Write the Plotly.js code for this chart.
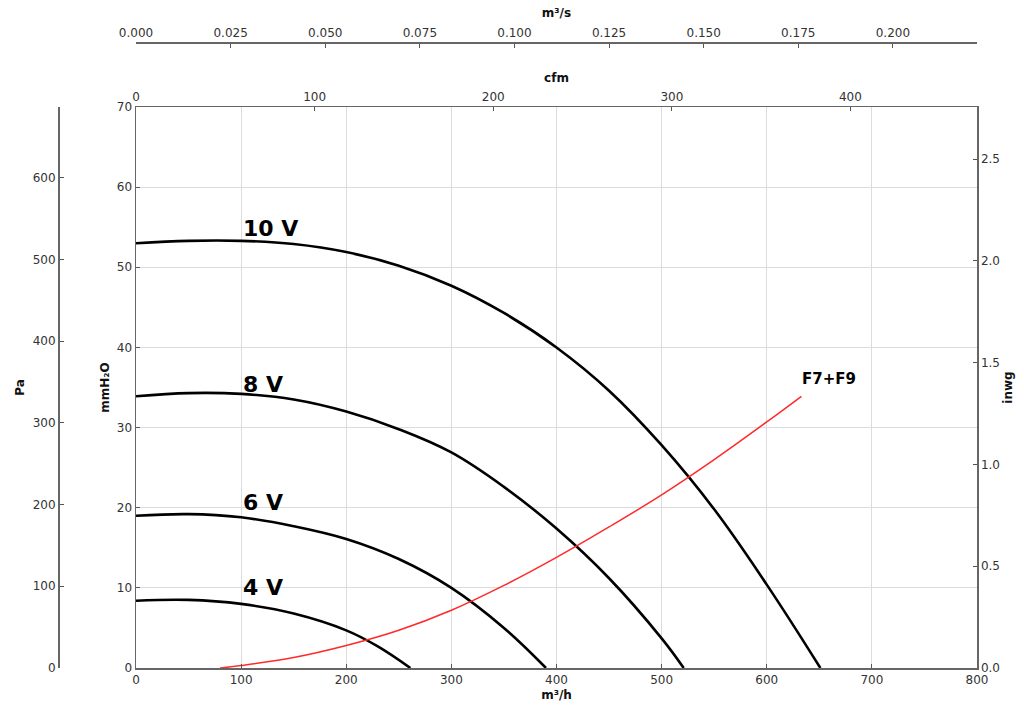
<!DOCTYPE html>
<html>
<head>
<meta charset="utf-8">
<script src="https://cdn.plot.ly/plotly-3.0.1.min.js"></script>
<style>html,body{margin:0;padding:0;background:#fff;}#chart{width:1024px;height:706px;}</style>
</head>
<body>
<div id="chart"></div>
<script>
// ---- data (m³/h vs mmH2O) ----
const q10 = [0, 50, 100, 150, 200, 250, 300, 350, 400, 450, 500, 550, 600, 651];
const h10 = [53.0, 53.3, 53.3, 52.9, 51.9, 50.2, 47.7, 44.3, 40.0, 34.6, 27.8, 19.8, 10.4, 0];
const q8 = [0, 50, 100, 150, 200, 250, 300, 350, 400, 450, 500, 521];
const h8 = [33.9, 34.3, 34.2, 33.5, 32.0, 29.8, 26.9, 22.6, 17.4, 11.2, 3.7, 0];
const q6 = [0, 50, 100, 150, 200, 250, 300, 350, 390];
const h6 = [19.0, 19.2, 18.8, 17.7, 16.1, 13.6, 10.0, 5.0, 0];
const q4 = [0, 50, 100, 150, 200, 230, 261];
const h4 = [8.4, 8.5, 8.0, 6.8, 4.7, 2.7, 0];
const qF = [80, 100, 150, 200, 250, 300, 350, 400, 450, 500, 550, 600, 633];
const hF = [0, 0.3, 1.3, 2.8, 4.7, 7.2, 10.3, 13.8, 17.6, 21.6, 26.0, 30.7, 33.9];

const curveLabels = ['10 V', '8 V', '6 V', '4 V'];
const curveLabelX = [100, 100, 100, 100];
const curveLabelY = [54.8, 35.4, 20.6, 10.1];
const filterLabel = 'F7+F9';
const filterLabelX = 632;
const filterLabelY = 36.1;

// unit conversions
const M3H_PER_CFM = 1.69901;
const PA_PER_MMH2O = 9.80665;
const MMH2O_PER_INWG = 25.4;
const X_MAX = 800, Y_MAX = 70;

const W = 1024, H = 706;
const plotL = 136, plotR = 977, plotT = 107, plotB = 668;

const fanStyle = {color: '#000', width: 2.6, shape: 'spline', smoothing: 1.1};
const traces = [
  {x: q10, y: h10, mode: 'lines', line: fanStyle, hoverinfo: 'skip'},
  {x: q8, y: h8, mode: 'lines', line: fanStyle, hoverinfo: 'skip'},
  {x: q6, y: h6, mode: 'lines', line: fanStyle, hoverinfo: 'skip'},
  {x: q4, y: h4, mode: 'lines', line: fanStyle, hoverinfo: 'skip'},
  {x: qF, y: hF, mode: 'lines', line: {color: '#ff2a2a', width: 1.5, shape: 'spline', smoothing: 1.1}, hoverinfo: 'skip'},
  // empty helper traces so the secondary unit axes are drawn
  {x: [null], y: [null], xaxis: 'x2', yaxis: 'y', mode: 'lines', hoverinfo: 'skip'},
  {x: [null], y: [null], xaxis: 'x3', yaxis: 'y', mode: 'lines', hoverinfo: 'skip'},
  {x: [null], y: [null], xaxis: 'x', yaxis: 'y2', mode: 'lines', hoverinfo: 'skip'},
  {x: [null], y: [null], xaxis: 'x', yaxis: 'y3', mode: 'lines', hoverinfo: 'skip'}
];

const tickFont = {family: 'DejaVu Sans', size: 12, color: '#333'};
const titleFont = {family: 'DejaVu Sans', size: 12, color: '#111', weight: 'bold'};
const axisCommon = {
  ticks: 'inside', ticklen: 4, tickwidth: 1, tickcolor: '#555',
  showline: true, linecolor: '#666', linewidth: 1.5,
  zeroline: false, tickfont: tickFont, automargin: false, fixedrange: true
};

const annotations = curveLabels.map((t, i) => ({
  text: t, x: curveLabelX[i], y: curveLabelY[i], xref: 'x', yref: 'y',
  xanchor: 'left', yanchor: 'middle', showarrow: false,
  font: {family: 'DejaVu Sans', size: 22, color: '#000', weight: 'bold'}
}));
annotations.push({
  text: filterLabel, x: filterLabelX, y: filterLabelY, xref: 'x', yref: 'y',
  xanchor: 'left', yanchor: 'middle', showarrow: false,
  font: {family: 'DejaVu Sans', size: 15, color: '#000', weight: 'bold'}
});

const layout = {
  width: W, height: H,
  margin: {l: 0, r: 0, t: 0, b: 0},
  paper_bgcolor: '#fff', plot_bgcolor: '#fff',
  showlegend: false,
  font: {family: 'DejaVu Sans', size: 12, color: '#333'},
  xaxis: Object.assign({}, axisCommon, {
    domain: [plotL / W, plotR / W], range: [0, X_MAX], tick0: 0, dtick: 100,
    showgrid: true, gridcolor: '#dcdcdc', gridwidth: 1, anchor: 'y', side: 'bottom',
    title: {text: 'm³/h', font: titleFont, standoff: 4}
  }),
  xaxis2: Object.assign({}, axisCommon, {
    overlaying: 'x', side: 'top', anchor: 'y',
    range: [0, X_MAX / M3H_PER_CFM], tick0: 0, dtick: 100, showgrid: false,
    title: {text: 'cfm', font: titleFont, standoff: 4}
  }),
  xaxis3: Object.assign({}, axisCommon, {
    overlaying: 'x', side: 'top', anchor: 'free', position: 1 - 42 / H,
    range: [0, X_MAX / 3600], tick0: 0, dtick: 0.025, tickformat: '.3f', showgrid: false,
    title: {text: 'm³/s', font: titleFont, standoff: 4}
  }),
  yaxis: Object.assign({}, axisCommon, {
    domain: [1 - plotB / H, 1 - plotT / H], range: [0, Y_MAX], tick0: 0, dtick: 10,
    showgrid: true, gridcolor: '#dcdcdc', gridwidth: 1, anchor: 'x', side: 'left',
    title: {text: 'mmH₂O', font: titleFont, standoff: 4}
  }),
  yaxis2: Object.assign({}, axisCommon, {
    overlaying: 'y', side: 'left', anchor: 'free', position: 58 / W,
    range: [0, Y_MAX * PA_PER_MMH2O], tick0: 0, dtick: 100, showgrid: false,
    title: {text: 'Pa', font: titleFont, standoff: 4}
  }),
  yaxis3: Object.assign({}, axisCommon, {
    overlaying: 'y', side: 'right', anchor: 'x',
    range: [0, Y_MAX / MMH2O_PER_INWG], tick0: 0, dtick: 0.5, tickformat: '.1f', showgrid: false,
    title: {text: 'inwg', font: titleFont, standoff: 4}
  }),
  annotations: annotations
};

Plotly.newPlot('chart', traces, layout, {staticPlot: true, displayModeBar: false});
</script>
</body>
</html>
